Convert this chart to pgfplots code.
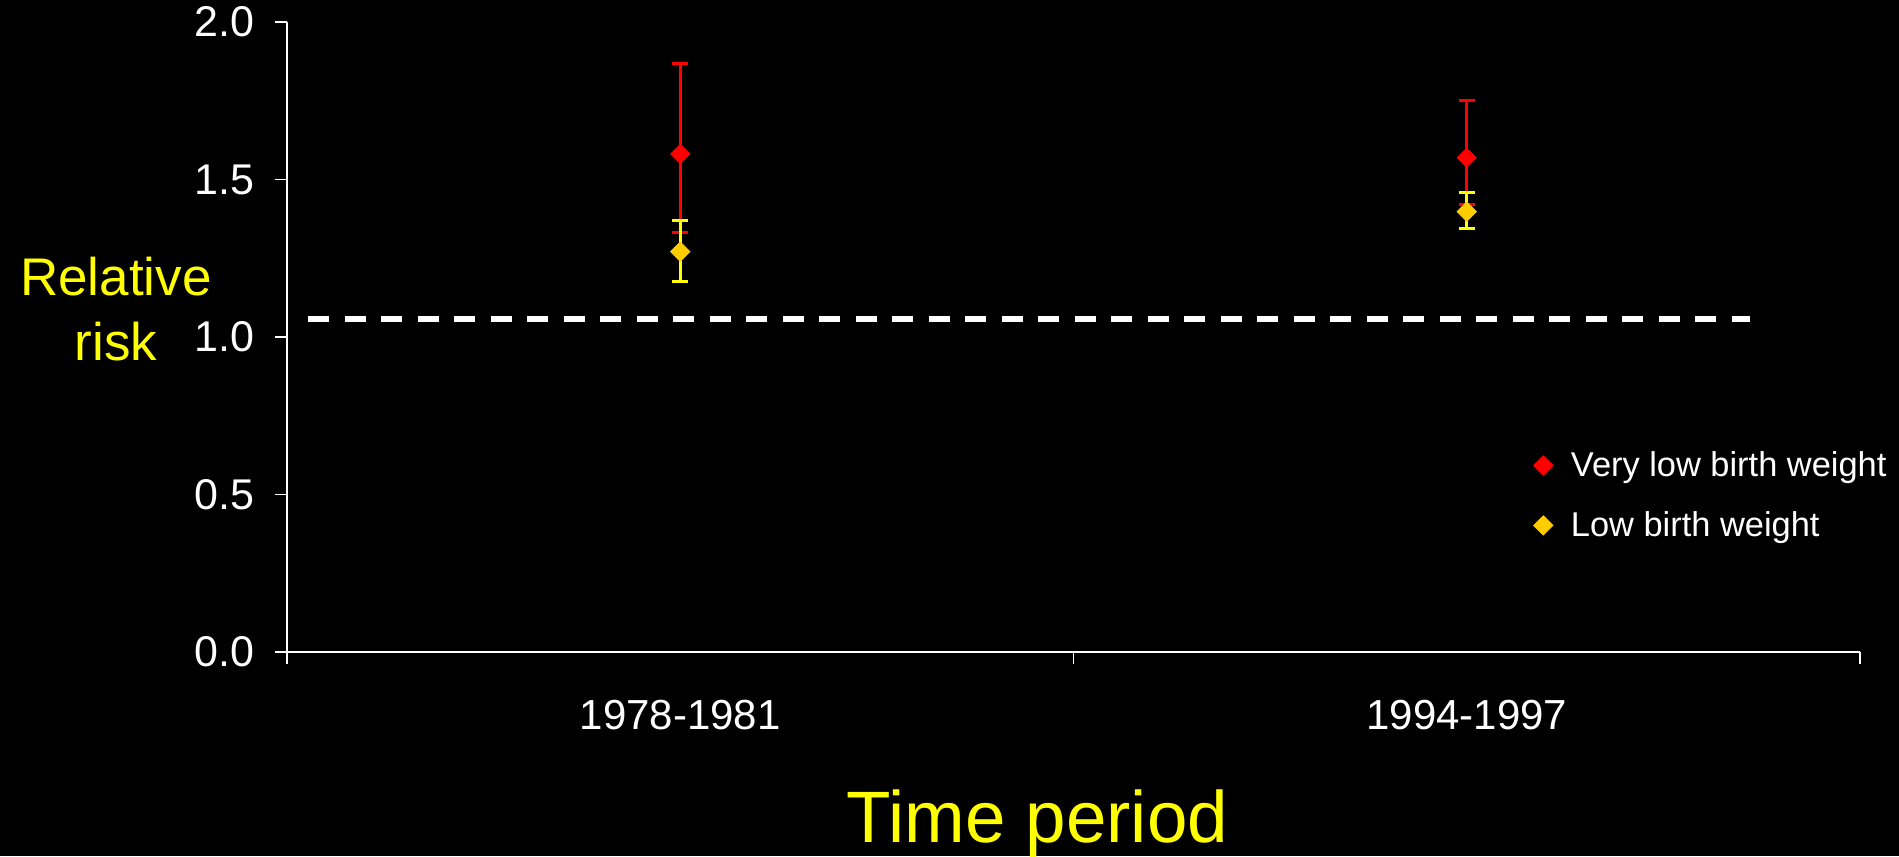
\documentclass[border=0pt]{standalone}
\usepackage{pgfplots}
\pgfplotsset{compat=1.18}
\usepackage{pgfplotstable}
\usepackage{fontspec}
\setmainfont{Liberation Sans}

\definecolor{vlbw}{HTML}{FF0000}
\definecolor{lbwbar}{HTML}{FFFF00}
\definecolor{lbw}{HTML}{FFCC00}
\definecolor{ttl}{HTML}{FFFF00}

% x  y  err+  err-
\pgfplotstableread{
x    y      ep     em
0.5  1.581  0.286  0.248
1.5  1.569  0.183  0.148
}\vlbwdata
\pgfplotstableread{
x    y      ep     em
0.5  1.271  0.100  0.096
1.5  1.398  0.061  0.054
}\lbwdata

\begin{document}
\begin{tikzpicture}
\path[fill=black, use as bounding box] (-143.5pt,-102pt) rectangle (806pt,326pt);
\begin{axis}[
    at={(0pt,0pt)}, anchor=south west,
    scale only axis,
    width=786.5pt, height=315pt,
    xmin=0, xmax=2, ymin=0, ymax=2,
    clip=false,
    axis lines*=left,
    axis line style={white, line width=0.75pt, -},
    tick style={white, line width=0.75pt},
    tick align=outside,
    major tick length=6pt,
    xtick={0,1,2}, xticklabels={,,},
    extra x ticks={0.5,1.5},
    extra x tick labels={1978-1981,1994-1997},
    extra x tick style={major tick length=0pt, tick style={draw=none}},
    xticklabel style={yshift=-20.5pt, font=\fontsize{21}{25}\selectfont},
    ytick={0,0.5,1,1.5,2},
    yticklabel style={/pgf/number format/fixed, /pgf/number format/fixed zerofill,
        /pgf/number format/precision=1, xshift=-7pt, font=\fontsize{21.5}{25}\selectfont},
    /pgf/number format/assume math mode=true,
    ticklabel style={white},
    legend style={draw=none, fill=none, text=white, font=\fontsize{17.2}{20}\selectfont,
        at={(axis cs:1.577,0.663)}, anchor=north west, row sep=12pt, column sep=7pt,
        cells={anchor=west}},
    legend cell align=left,
]
\addplot[only marks, mark=square*, mark size=3.4pt, mark options={rotate=45, fill=vlbw, draw=vlbw},
    error bars/.cd, y dir=both, y explicit,
    error bar style={vlbw, line width=1.5pt},
    error mark options={rotate=90, mark size=3.9pt, line width=1.5pt, vlbw}]
    table[x=x, y=y, y error plus=ep, y error minus=em] {\vlbwdata};
\addlegendentry{Very low birth weight}
\addplot[only marks, mark=square*, mark size=3.4pt, mark options={rotate=45, fill=lbw, draw=lbw},
    error bars/.cd, y dir=both, y explicit,
    error bar style={lbwbar, line width=1.5pt},
    error mark options={rotate=90, mark size=3.9pt, line width=1.5pt, lbwbar}]
    table[x=x, y=y, y error plus=ep, y error minus=em] {\lbwdata};
\addlegendentry{Low birth weight}
\addplot[white, line width=2.6pt, dash pattern=on 10.5pt off 7.75pt, forget plot]
    coordinates {(0.027,1.057) (1.860,1.057)};
\node[anchor=base, text=ttl, font=\fontsize{36.4}{40}\selectfont]
    at ([yshift=-95pt]axis cs:0.954,0) {Time period};
\node[align=center, text=ttl, font=\fontsize{26.5}{32.7}\selectfont]
    at ([xshift=-85.5pt]axis cs:0,1.088) {Relative\\risk};
\end{axis}
\end{tikzpicture}
\end{document}
